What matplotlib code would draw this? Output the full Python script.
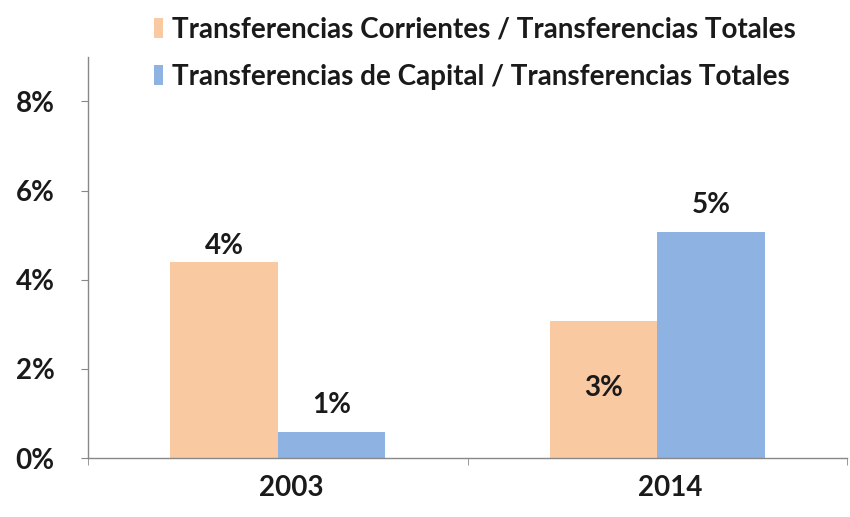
import matplotlib
matplotlib.use("Agg")
import matplotlib.pyplot as plt
import numpy as np

categories = ["2003", "2014"]
series_names = ["Transferencias Corrientes / Transferencias Totales",
                "Transferencias de Capital / Transferencias Totales"]
corrientes = [4.4, 3.08]
capital = [0.58, 5.08]
y_ticks = [0, 2, 4, 6, 8]

colors = ["#F9C9A2", "#8EB2E1"]
plt.rcParams['font.family'] = ['Lato', 'DejaVu Sans']
plt.rcParams['font.weight'] = 'bold'
txt = "#1a1a1a"
fs = 20

fig = plt.figure(figsize=(8.5, 5.17), dpi=100)
ax = fig.add_axes([0.1035, 0.1141, 0.893, 0.776])

x = np.arange(len(categories))
w = 0.283
b1 = ax.bar(x - w/2, corrientes, width=w, color=colors[0], label=series_names[0])
b2 = ax.bar(x + w/2, capital, width=w, color=colors[1], label=series_names[1])

# data labels (offsets in points: style only)
offs1 = [(0, 2), (0, -58)]
offs2 = [(0, 10), (0, 10)]
for bars, vals, offs in ((b1, corrientes, offs1), (b2, capital, offs2)):
    for r, v, o in zip(bars, vals, offs):
        ax.annotate(f"{v:.0f}%", (r.get_x() + r.get_width()/2, v),
                    xytext=o, textcoords="offset points", ha="center", va="bottom",
                    fontsize=fs, fontweight="bold", color=txt)

ax.set_xlim(-0.5, 1.5)
ax.set_ylim(0, 9)
ax.set_yticks(y_ticks)
ax.set_yticklabels([f"{t}%" for t in y_ticks])
ax.set_xticks(x + 0.035)
ax.set_xticklabels(categories)
ax.set_xticks([-0.5, 0.5, 1.5], minor=True)
ax.tick_params(axis='x', which='major', length=0, pad=12, labelsize=fs, labelcolor=txt)
ax.tick_params(axis='x', which='minor', length=5, color="#888888", direction='out')
ax.tick_params(axis='y', length=5, color="#888888", pad=19, labelsize=fs, labelcolor=txt)
for s in ['top', 'right']:
    ax.spines[s].set_visible(False)
for s in ['left', 'bottom']:
    ax.spines[s].set_color("#888888")
    ax.spines[s].set_linewidth(1.0)

leg = fig.legend(loc="upper left", bbox_to_anchor=(0.158, 1.005), frameon=False,
                 fontsize=fs, handlelength=0.35, handleheight=0.7, handletextpad=0.3,
                 labelspacing=0.75, borderaxespad=0.3)
for t in leg.get_texts():
    t.set_color(txt)
    t.set_fontweight("bold")

fig.savefig("out.png", dpi=100, facecolor="white")
